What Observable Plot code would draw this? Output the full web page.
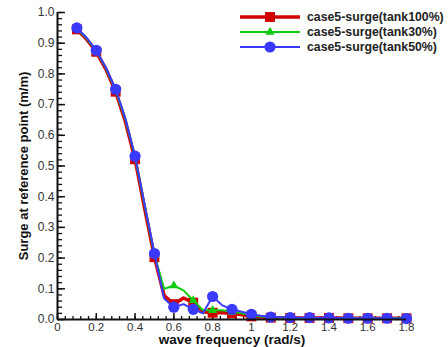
<!DOCTYPE html>
<html><head><meta charset="utf-8">
<script src="https://cdn.jsdelivr.net/npm/d3@7"></script>
<script src="https://cdn.jsdelivr.net/npm/@observablehq/plot@0.6"></script>
<style>
body{margin:0;background:#fff;}
#wrap{position:relative;width:448px;height:347px;}
#legend{position:absolute;left:0;top:0;pointer-events:none;}
</style></head><body><div id="wrap"></div>
<script>
// wave frequency (rad/s)
const freq = [0.1,0.15,0.2,0.25,0.3,0.35,0.4,0.45,0.5,0.55,0.6,0.65,0.7,0.75,0.8,0.85,0.9,0.95,1.0,1.05,1.1,1.15,1.2,1.25,1.3,1.35,1.4,1.45,1.5,1.55,1.6,1.65,1.7,1.75,1.8];
const tank100 = [0.945,0.913,0.872,0.815,0.742,0.645,0.522,0.36,0.203,0.078,0.05,0.07,0.055,0.025,0.022,0.022,0.02,0.015,0.01,0.008,0.006,0.006,0.005,0.005,0.005,0.005,0.005,0.005,0.004,0.004,0.004,0.004,0.004,0.004,0.004];
const tank30 = [0.948,0.916,0.875,0.818,0.747,0.652,0.53,0.37,0.21,0.1,0.11,0.095,0.062,0.03,0.03,0.03,0.025,0.02,0.013,0.01,0.008,0.006,0.006,0.005,0.005,0.005,0.005,0.005,0.004,0.004,0.004,0.004,0.004,0.004,0.004];
const tank50 = [0.95,0.918,0.877,0.82,0.75,0.655,0.532,0.372,0.215,0.068,0.04,0.05,0.033,0.02,0.075,0.046,0.033,0.025,0.017,0.012,0.008,0.007,0.006,0.006,0.006,0.005,0.005,0.005,0.004,0.004,0.004,0.004,0.004,0.003,0.003];
const seriesNames = ["case5-surge(tank100%)","case5-surge(tank30%)","case5-surge(tank50%)"];
const seriesValues = [tank100, tank30, tank50];
const seriesColors = ["#d00000","#10cc10","#3a3aff"];
const seriesSymbols = ["square","triangle","circle"];
const seriesLineWidths = [3.5,2,2];
const seriesMarkerR = [5.6,3.4,5.6];
const xTicks = [0,0.2,0.4,0.6,0.8,1,1.2,1.4,1.6,1.8];
const yTicks = [0,0.1,0.2,0.3,0.4,0.5,0.6,0.7,0.8,0.9,1.0];
const xLabel = "wave frequency (rad/s)";
const yLabel = "Surge at reference point (m/m)";

const xMinor = d3.range(0, 1.8001, 0.04);
const yMinor = d3.range(0, 1.0001, 0.02);

const lineMarks = [];
const dotMarks = [];
seriesValues.forEach((vals, i) => {
  const rows = freq.map((f, j) => ({f, v: vals[j], j}));
  lineMarks.push(Plot.line(rows, {x: "f", y: "v", stroke: seriesColors[i], strokeWidth: seriesLineWidths[i]}));
  dotMarks.push(Plot.dot(rows.filter(d => d.j % 2 === 0), {x: "f", y: "v", fill: seriesColors[i], symbol: seriesSymbols[i], r: seriesMarkerR[i]}));
});
const drawn = [];
for (let i = 0; i < 3; i++) { drawn.push(lineMarks[i]); drawn.push(dotMarks[i]); }

const chart = Plot.plot({
  width: 448, height: 347,
  marginLeft: 57, marginRight: 42, marginTop: 12, marginBottom: 28,
  style: {fontFamily: "'Liberation Sans', Arial, sans-serif", fontSize: "12px", color: "#111", background: "#fff"},
  x: {domain: [0, 1.8]},
  y: {domain: [0, 1]},
  marks: [
    Plot.axisX(xMinor, {anchor: "top", frameAnchor: "bottom", tickSize: 4, fill: "none", label: null, strokeWidth: 1.3, stroke: "#111"}),
    Plot.axisX(xTicks, {anchor: "top", frameAnchor: "bottom", tickSize: 7, fill: "none", label: null, strokeWidth: 1.5, stroke: "#111"}),
    Plot.axisY(yMinor, {anchor: "right", frameAnchor: "left", tickSize: 4, fill: "none", label: null, strokeWidth: 1.3, stroke: "#111"}),
    Plot.axisY(yTicks, {anchor: "right", frameAnchor: "left", tickSize: 7, fill: "none", label: null, strokeWidth: 1.5, stroke: "#111"}),
    Plot.axisX(xTicks, {anchor: "bottom", tickSize: 0, tickPadding: 3, label: null, fill: "#333", fontSize: 11.5, tickFormat: d => d3.format("~g")(d)}),
    Plot.axisY(yTicks, {anchor: "left", tickSize: 0, tickPadding: 3, label: null, fill: "#333", fontSize: 12, tickFormat: d3.format(".1f")}),
    Plot.text([xLabel], {frameAnchor: "bottom", dy: 20, text: d => d, fontWeight: "bold", fontSize: 13.5, fill: "#111", lineAnchor: "middle", textAnchor: "middle"}),
    Plot.text([yLabel], {frameAnchor: "left", dx: -34, rotate: -90, text: d => d, fontWeight: "bold", fontSize: 13, fill: "#111", lineAnchor: "middle", textAnchor: "middle"}),
    ...drawn,
    Plot.ruleY([0], {stroke: "#111", strokeWidth: 2}),
    Plot.ruleX([0], {stroke: "#111", strokeWidth: 2})
  ]
});
const wrap = document.getElementById("wrap");
wrap.appendChild(chart);

// legend overlay
const leg = d3.select(wrap).append("svg").attr("id", "legend").attr("width", 448).attr("height", 60);
const rowsY = [17, 32, 47];
seriesNames.forEach((name, i) => {
  const g = leg.append("g");
  g.append("line").attr("x1", 240).attr("x2", 300).attr("y1", rowsY[i]).attr("y2", rowsY[i])
    .attr("stroke", seriesColors[i]).attr("stroke-width", seriesLineWidths[i]);
  const sym = {square: d3.symbolSquare, triangle: d3.symbolTriangle, circle: d3.symbolCircle}[seriesSymbols[i]];
  g.append("path").attr("d", d3.symbol(sym, Math.PI * seriesMarkerR[i] ** 2)())
    .attr("transform", `translate(270,${rowsY[i]})`).attr("fill", seriesColors[i]);
  g.append("text").attr("x", 307).attr("y", rowsY[i]).attr("dy", "0.35em")
    .attr("font-family", "'Liberation Sans', Arial, sans-serif").attr("font-size", 12.3).attr("font-weight", "bold")
    .attr("fill", "#222").text(name);
});
</script></body></html>
